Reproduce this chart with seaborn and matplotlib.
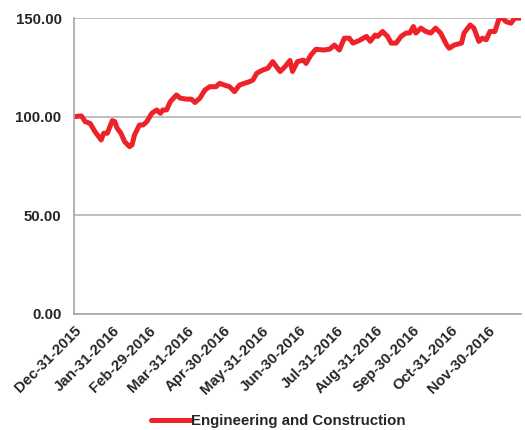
import numpy as np
import pandas as pd
import matplotlib.pyplot as plt
import matplotlib.dates as mdates
import seaborn as sns

# days after Dec-31-2015 and index level
days = [0, 6, 9, 13, 17, 22, 24, 27, 31, 33, 35, 38, 41, 45, 47, 49, 53, 56, 59, 63,
        67, 70, 72, 75, 78, 83, 86, 91, 95, 98, 102, 106, 110, 115, 118, 122, 126, 130,
        134, 138, 142, 145, 148, 153, 157, 161, 165, 167, 171, 175, 177, 181, 186, 188,
        192, 196, 202, 207, 211, 215, 219, 223, 226, 231, 237, 240, 244, 246, 250, 254,
        257, 261, 265, 269, 272, 275, 277, 281, 285, 289, 293, 297, 302, 304, 308, 314,
        316, 321, 324, 328, 331, 334, 337, 341, 344, 346, 350, 354, 357, 362]
values = [100.0, 100.4, 97.5, 96.6, 92.4, 88.2, 91.6, 91.6, 98.0, 97.5, 94.1, 91.6, 87.3,
          84.8, 85.7, 90.7, 95.8, 95.8, 97.5, 101.7, 103.4, 101.7, 103.4, 103.4, 107.6,
          111.0, 109.4, 108.9, 108.9, 107.2, 109.4, 113.5, 115.2, 115.2, 116.9, 116.0,
          115.2, 112.7, 116.0, 116.9, 117.7, 118.6, 122.0, 123.7, 124.5, 127.9, 124.5,
          122.9, 125.4, 128.5, 122.9, 127.9, 128.7, 127.0, 131.3, 134.2, 133.8, 134.2,
          136.3, 133.8, 139.8, 139.8, 137.3, 138.6, 140.7, 138.2, 141.4, 140.7, 143.2,
          140.7, 137.3, 137.3, 140.7, 142.4, 142.4, 145.7, 142.4, 144.9, 143.2, 142.4,
          144.9, 142.4, 136.3, 134.7, 136.3, 137.3, 142.4, 146.5, 144.9, 138.2, 139.8,
          139.0, 143.2, 143.2, 149.0, 150.7, 148.2, 147.4, 149.9, 150.0]
series_name = "Engineering and Construction"
tick_dates = ["2015-12-31", "2016-01-31", "2016-02-29", "2016-03-31", "2016-04-30",
              "2016-05-31", "2016-06-30", "2016-07-31", "2016-08-31", "2016-09-30",
              "2016-10-31", "2016-11-30"]

start = pd.Timestamp("2015-12-31")
df = pd.DataFrame({"date": start + pd.to_timedelta(days, unit="D"), "value": values})

sns.set_style("white")
plt.rcParams["font.family"] = ["Liberation Sans", "DejaVu Sans"]

fig = plt.figure(figsize=(5.25, 4.3), dpi=100)
ax = fig.add_axes([0.141, 0.27, 0.851, 0.688])
sns.lineplot(data=df, x="date", y="value", color="#ee2229", linewidth=3.6,
             ax=ax, label=series_name, legend=False)

ax.set_ylim(0, 150)
ax.set_xlim(start, start + pd.Timedelta(days=362))
ax.set_yticks([0, 50, 100, 150])
ax.yaxis.set_major_formatter(plt.FormatStrFormatter("%.2f"))
ticks = pd.to_datetime(tick_dates)
ax.set_xticks(ticks)
ax.set_xticklabels([t.strftime("%b-%d-%Y") for t in ticks], rotation=45,
                   ha="right", rotation_mode="anchor")
for lab in ax.get_xticklabels() + ax.get_yticklabels():
    lab.set_fontweight("bold")
    lab.set_fontsize(10.8)

ax.grid(axis="y", color="#b3b3b3", linewidth=1.2)
ax.set_axisbelow(True)
for s in ["top", "right"]:
    ax.spines[s].set_visible(False)
for s in ["left", "bottom"]:
    ax.spines[s].set_color("#a6a6a6")
    ax.spines[s].set_linewidth(1.2)
ax.tick_params(axis="x", length=4, color="#a6a6a6", pad=3)
ax.tick_params(axis="y", length=4, color="#a6a6a6", pad=5)
ax.set_xlabel("")
ax.set_ylabel("")

handles, labels = ax.get_legend_handles_labels()
fig.legend(handles, labels, loc="center", bbox_to_anchor=(0.53, 0.021),
           frameon=False, prop={"weight": "bold", "size": 10.8},
           handlelength=2.7, handletextpad=0.0, borderaxespad=0, borderpad=0)

fig.savefig("out.png", dpi=100)
